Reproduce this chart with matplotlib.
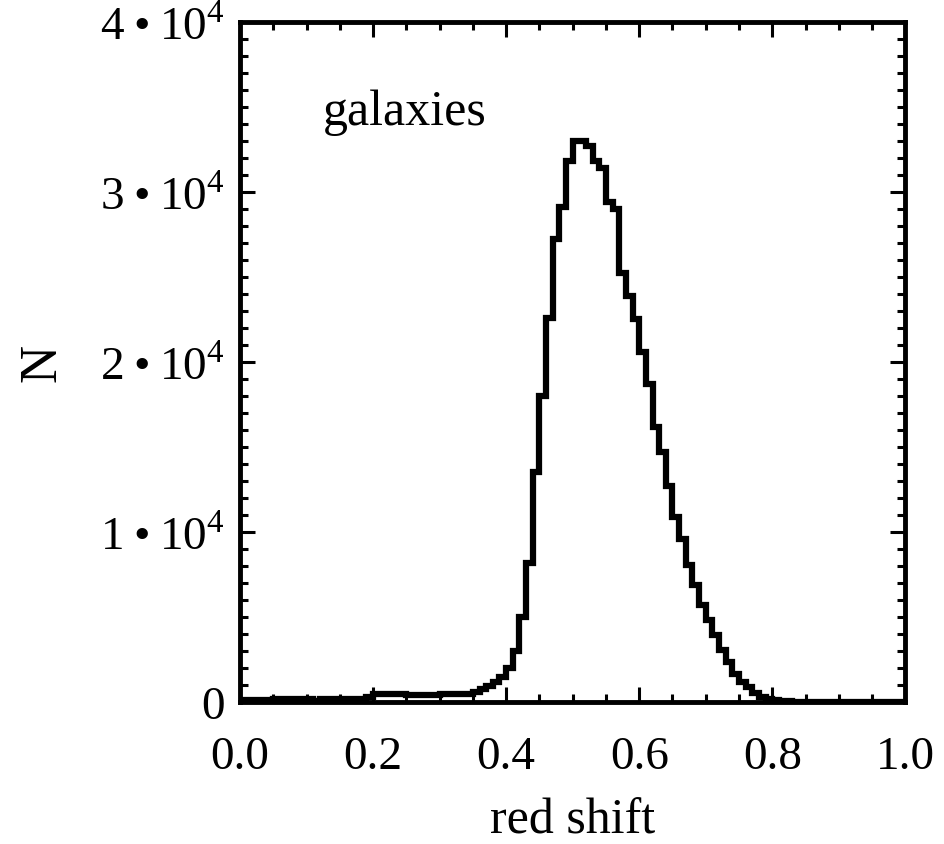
import matplotlib.pyplot as plt
import numpy as np

plt.rcParams['font.family'] = ['Liberation Serif', 'DejaVu Serif']
plt.rcParams['mathtext.fontset'] = 'custom'
plt.rcParams['mathtext.rm'] = 'Liberation Serif'

# histogram of galaxy redshifts, bins of 0.01 from 0 to 1
bin_edges = np.linspace(0.0, 1.0, 101)
counts = [
    # 0.00 - 0.09
    100, 100, 100, 100, 100, 200, 150, 150, 150, 150,
    # 0.10 - 0.19
    150, 80, 150, 150, 150, 150, 150, 150, 150, 300,
    # 0.20 - 0.29
    450, 500, 500, 480, 450, 420, 420, 420, 420, 430,
    # 0.30 - 0.39
    450, 450, 450, 460, 500, 600, 750, 950, 1200, 1500,
    # 0.40 - 0.49
    2000, 3000, 5000, 8200, 13500, 18000, 22600, 27200, 29100, 31800,
    # 0.50 - 0.59
    33000, 33000, 32700, 31800, 31400, 29400, 29000, 25200, 23900, 22500,
    # 0.60 - 0.69
    20600, 18700, 16200, 14700, 12700, 10900, 9600, 8040, 6860, 5690,
    # 0.70 - 0.79
    4800, 3920, 3040, 2350, 1670, 1180, 880, 520, 300, 190,
    # 0.80 - 0.89
    120, 70, 40, 20, 20, 20, 20, 20, 20, 20,
    # 0.90 - 0.99
    20, 20, 20, 20, 20, 0, 0, 0, 0, 0,
]

x_ticks = [0.0, 0.2, 0.4, 0.6, 0.8, 1.0]
x_labels = ["0.0", "0.2", "0.4", "0.6", "0.8", "1.0"]
y_ticks = [0, 10000, 20000, 30000, 40000]
y_labels = ["0", "1\u202f•\u202f10$^{\\mathrm{4}}$", "2\u202f•\u202f10$^{\\mathrm{4}}$",
            "3\u202f•\u202f10$^{\\mathrm{4}}$", "4\u202f•\u202f10$^{\\mathrm{4}}$"]

fig = plt.figure(figsize=(9.45, 8.45), dpi=100)
ax = fig.add_axes([0.254, 0.168, 0.704, 0.805])

ax.stairs(counts, bin_edges, color="black", linewidth=4.5)

ax.set_xlim(0, 1)
ax.set_ylim(0, 40000)

ax.set_xticks(x_ticks)
ax.set_xticklabels(x_labels)
ax.set_xticks(np.arange(0, 1.0001, 0.05), minor=True)
ax.set_yticks(y_ticks)
ax.set_yticklabels(y_labels)
ax.set_yticks(np.arange(0, 40001, 1000), minor=True)

ax.tick_params(which="both", direction="in", top=True, right=True, width=2.2, labelsize=34)
ax.tick_params(which="major", length=11)
ax.tick_params(which="minor", length=6)
ax.tick_params(axis="x", pad=24)
ax.tick_params(axis="y", pad=11)
for s in ax.spines.values():
    s.set_linewidth(3.5)

ax.set_xlabel("red shift", fontsize=36, labelpad=14)
ax.set_ylabel("N", fontsize=38, labelpad=24)

ax.text(0.125, 0.85, "galaxies", transform=ax.transAxes, fontsize=36, va="baseline")

plt.savefig("out.png", dpi=100)
